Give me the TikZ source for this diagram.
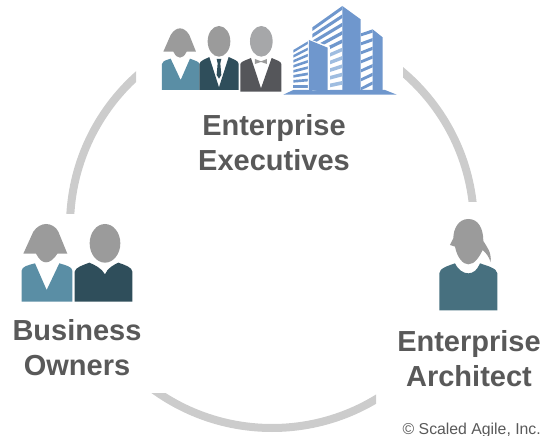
\documentclass[tikz,border=0pt]{standalone}
\usepackage{fontspec}
\setmainfont{Liberation Sans}
\usepackage{xcolor}
\definecolor{ringgray}{HTML}{CCCCCC}
\definecolor{labelgray}{HTML}{595959}
\definecolor{headgray}{HTML}{9B9B9B}
\definecolor{headlight}{HTML}{A6A7A9}
\definecolor{tealsuit}{HTML}{5A8EA5}
\definecolor{darksuit}{HTML}{2F4E5B}
\definecolor{graysuit}{HTML}{55565A}
\definecolor{archsuit}{HTML}{47707F}
\definecolor{towerblue}{HTML}{6F97CD}
\definecolor{towerlight}{HTML}{9FBDE0}
\begin{document}
\begin{tikzpicture}[
    x=1pt, y=-1pt,
    rolelabel/.style={font=\fontsize{29}{35}\selectfont\bfseries, text=labelgray, align=center, inner sep=0pt},
    head/.style={fill=headgray},
    band/.style={fill=towerblue},
    lightband/.style={fill=towerlight}
]
    \useasboundingbox (0,0) rectangle (542,436);

    % Ring
    \begin{scope}
        \clip (40,40) rectangle (136,214) (403,40) rectangle (500,202) (100,393) rectangle (376,436);
        \draw[ringgray, line width=8pt] (272,226) circle [radius=202];
    \end{scope}

    % Executives
    \begin{scope}[shift={(150,0)}, scale=0.3333]
        \fill[head] (40,155) -- (62,105) .. controls (70,92) and (80,85) .. (90,85) .. controls (100,85) and (110,92) .. (118,105) -- (138,155) -- (110,155) .. controls (104,168) and (96,173) .. (90,173) .. controls (84,173) and (76,168) .. (70,155) -- cycle;
        \fill[tealsuit] (36,270) -- (36,192) .. controls (36,185) and (42,182) .. (62,176) -- (92,240) -- (120,176) .. controls (135,182) and (148,185) .. (148,192) -- (148,270) -- cycle;
        \fill[head] (207,124) ellipse [x radius=34, y radius=46];
        \fill[darksuit] (148,270) -- (148,192) .. controls (150,182) and (165,178) .. (178,171) -- (207,262) -- (236,171) .. controls (250,178) and (266,182) .. (266,192) -- (266,270) -- cycle;
        \fill[darksuit] (200,177) -- (214,177) -- (211,190) -- (214,225) -- (207,236) -- (200,225) -- (203,190) -- cycle;
        \fill[headlight] (334,124) ellipse [x radius=34, y radius=46];
        \fill[graysuit] (271,275) -- (271,192) .. controls (273,184) and (290,180) .. (303,174) -- (333,265) -- (365,174) .. controls (378,180) and (394,184) .. (394,192) -- (394,275) -- cycle;
        \fill[headgray] (315,177) -- (333,184) -- (351,177) -- (351,192) -- (333,186) -- (315,192) -- cycle;
    \end{scope}

    % Building
    \begin{scope}[shift={(280,0)}, scale=0.3333]
        \fill[towerblue] (10,284) -- (40,270) -- (315,270) -- (350,284) -- cycle;
        \fill[towerblue] (187,18) -- (242,58) -- (242,270) -- (187,270) -- cycle;
        \foreach \n in {0,...,4}
            \fill[band] (97,{82+20*\n}) -- (187,{18+25*\n}) -- (187,{29+25*\n}) -- (97,{93+20*\n}) -- cycle;
        \foreach \n in {5,...,9}
            \fill[lightband] (97,{82+20*\n}) -- (187,{18+25*\n}) -- (187,{29+25*\n}) -- (97,{93+20*\n}) -- cycle;
        \fill[towerblue] (278,88) -- (308,112) -- (308,270) -- (278,270) -- cycle;
        \foreach \n in {0,...,6}
            \fill[band] (243,{100+27*\n}) -- (278,{88+26*\n}) -- (278,{98+26*\n}) -- (243,{109+27*\n}) -- cycle;
        \foreach \n in {0,...,7}
            \fill[band] (40,{150+15*\n}) -- (87,{122+19*\n}) -- (87,{130+19*\n}) -- (40,{158+15*\n}) -- cycle;
        \fill[white] (84,116) -- (150,140) -- (150,270) -- (84,270) -- cycle;
        \fill[towerblue] (87,120) -- (143,143) -- (143,270) -- (87,270) -- cycle;
    \end{scope}

    % Business owners
    \begin{scope}[shift={(0,210)}, scale=0.3333]
        \fill[head] (70,131) -- (100,65) .. controls (110,50) and (125,42) .. (138,42) .. controls (152,42) and (168,50) .. (175,65) -- (202,131) -- (172,131) .. controls (160,150) and (148,157) .. (138,157) .. controls (128,157) and (118,150) .. (108,131) -- cycle;
        \fill[tealsuit] (65,275) -- (65,182) .. controls (65,170) and (85,165) .. (105,160) -- (140,240) -- (178,160) .. controls (195,165) and (217,170) .. (217,182) -- (217,275) -- cycle;
        \fill[head] (315,100) ellipse [x radius=46, y radius=58];
        \fill[darksuit] (224,275) -- (224,185) .. controls (226,172) and (250,165) .. (268,158) .. controls (285,165) and (305,175) .. (315,193) .. controls (322,175) and (340,165) .. (355,158) .. controls (375,165) and (397,172) .. (397,185) -- (397,275) -- cycle;
    \end{scope}

    % Architect
    \begin{scope}[shift={(420,205)}, scale=0.3333]
        \fill[head] (145,42) .. controls (115,42) and (100,72) .. (100,100) -- (90,120) -- (105,125) .. controls (112,160) and (130,178) .. (145,178) .. controls (165,178) and (178,155) .. (188,135) .. controls (200,145) and (208,158) .. (212,172) .. controls (215,140) and (200,125) .. (190,108) .. controls (190,70) and (175,42) .. (145,42) -- cycle;
        \fill[archsuit] (58,316) -- (58,205) .. controls (58,190) and (85,182) .. (105,175) .. controls (115,195) and (130,205) .. (145,205) .. controls (160,205) and (172,195) .. (180,175) .. controls (200,182) and (232,190) .. (232,205) -- (232,316) -- cycle;
    \end{scope}

    % Labels
    \node[rolelabel] (executives) at (274,143) {Enterprise\\Executives};
    \node[rolelabel] (owners) at (77,348) {Business\\Owners};
    \node[rolelabel] (architect) at (469,359) {Enterprise\\Architect};
    \node[anchor=base east, inner sep=0pt, text=labelgray, font=\fontsize{15.8}{18}\selectfont] (copyright) at (541,434) {© Scaled Agile, Inc.};
\end{tikzpicture}
\end{document}
